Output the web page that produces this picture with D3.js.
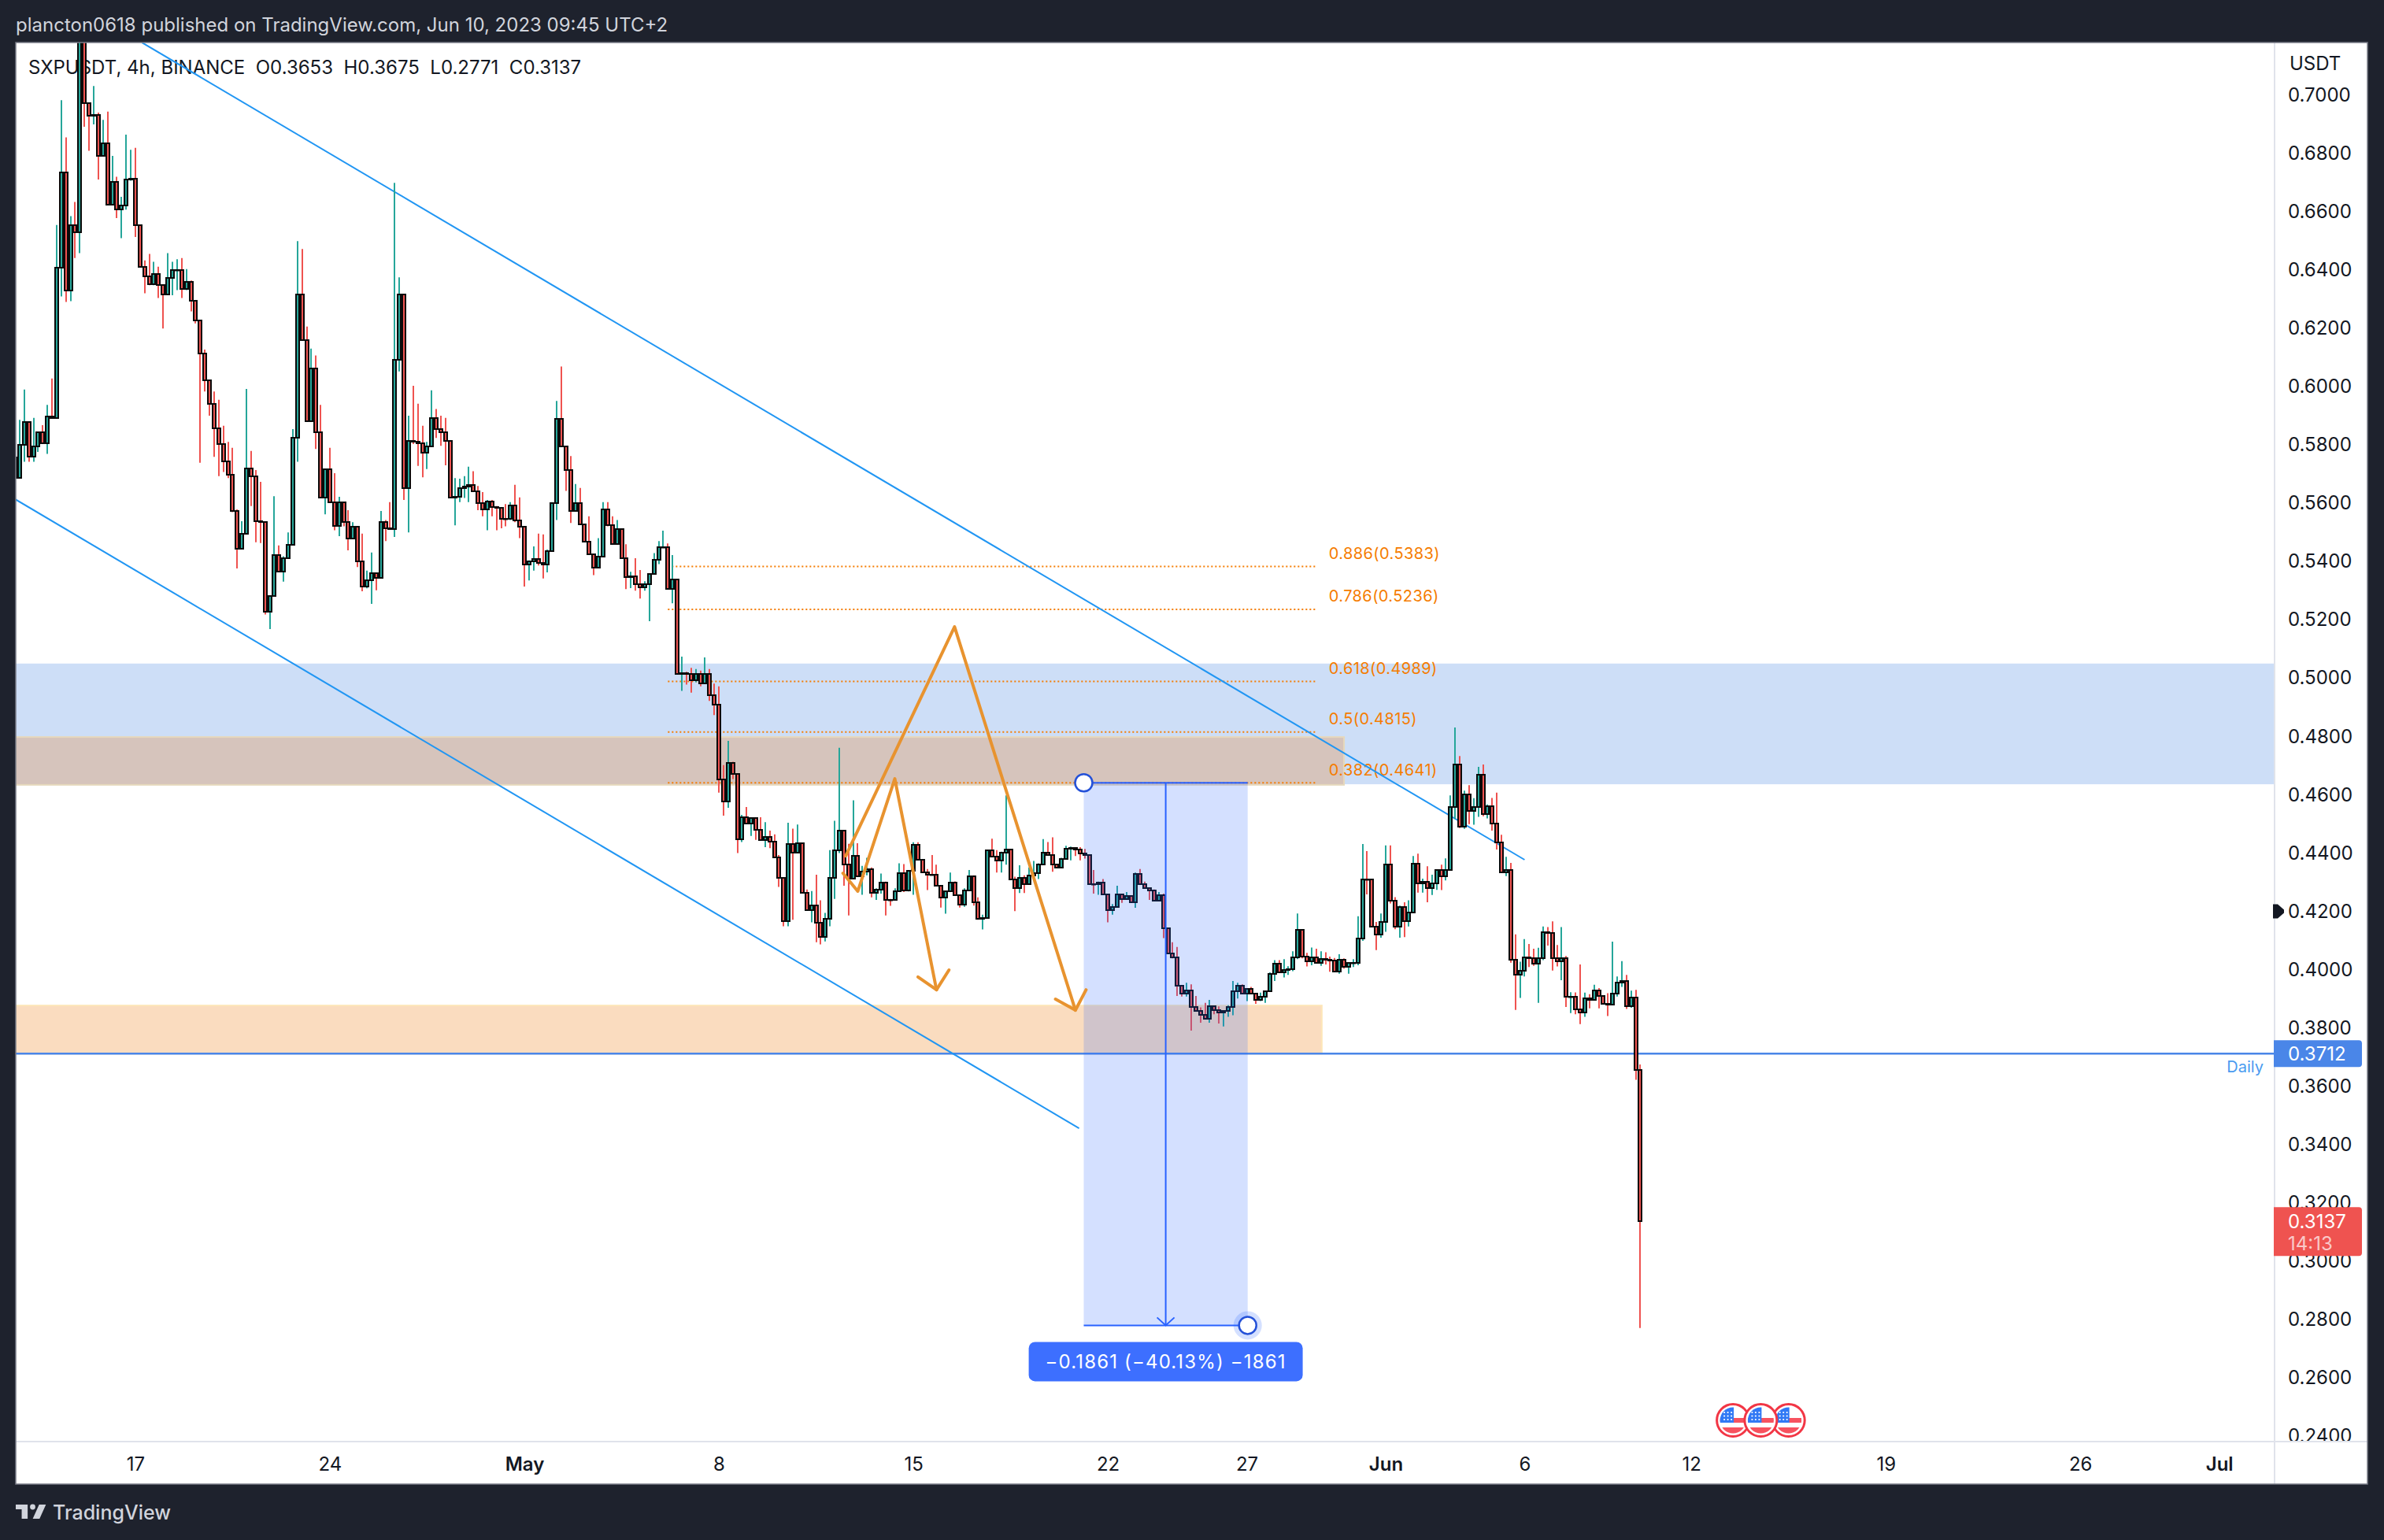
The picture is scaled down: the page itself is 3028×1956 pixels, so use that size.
<!DOCTYPE html>
<html>
<head>
<meta charset="utf-8">
<script src="https://cdn.jsdelivr.net/npm/d3@7"></script>
<style>
html,body{margin:0;padding:0;background:#1e222d;}
svg{display:block;}
text{font-family:Inter,"Noto Sans",sans-serif;}
</style>
</head>
<body>
<div id="container"></div>
<script>
// 4h candles, oldest first
const firstOpen=0.5758;
const closes=[
.5686,.5801,.5879,.5759,.5794,.5843,.5806,.5897,.5892,.6407,
.6735,.6330,.6553,.6530,.7243,.6972,.6929,.6931,.6791,.6834,
.6623,.6703,.6607,.6621,.6711,.6713,.6554,.6411,.6378,.6350,
.6386,.6348,.6316,.6373,.6400,.6400,.6334,.6359,.6294,.6228,
.6113,.6021,.5941,.5856,.5803,.5744,.5697,.5573,.5443,.5494,
.5720,.5691,.5538,.5536,.5229,.5281,.5423,.5365,.5411,.5458,
.5824,.6316,.6158,.5882,.6061,.5843,.5618,.5717,.5604,.5521,
.5604,.5535,.5480,.5518,.5400,.5314,.5336,.5361,.5343,.5535,
.5513,.5511,.6091,.6317,.5652,.5813,.5810,.5806,.5773,.5794,
.5892,.5854,.5843,.5814,.5620,.5623,.5651,.5656,.5662,.5642,
.5601,.5579,.5605,.5587,.5584,.5546,.5545,.5593,.5542,.5518,
.5390,.5400,.5408,.5394,.5390,.5436,.5600,.5889,.5794,.5714,
.5573,.5601,.5528,.5469,.5425,.5379,.5418,.5580,.5525,.5459,
.5510,.5411,.5346,.5348,.5321,.5311,.5321,.5356,.5407,.5450,
.5450,.5307,.5338,.5015,.5016,.5013,.4992,.5014,.4982,.5013,
.4941,.4908,.4652,.4577,.4709,.4672,.4447,.4523,.4501,.4521,
.4480,.4445,.4454,.4440,.4384,.4315,.4167,.4431,.4402,.4435,
.4264,.4203,.4221,.4161,.4113,.4175,.4315,.4410,.4477,.4360,
.4313,.4391,.4321,.4336,.4345,.4264,.4275,.4300,.4239,.4238,
.4270,.4331,.4273,.4338,.4429,.4378,.4333,.4327,.4326,.4288,
.4248,.4270,.4300,.4255,.4223,.4273,.4321,.4232,.4175,.4176,
.4410,.4387,.4375,.4401,.4411,.4310,.4281,.4315,.4294,.4324,
.4330,.4360,.4401,.4392,.4360,.4350,.4381,.4414,.4417,.4411,
.4399,.4394,.4293,.4292,.4300,.4258,.4203,.4214,.4258,.4243,
.4252,.4232,.4329,.4294,.4279,.4273,.4237,.4255,.4142,.4056,
.4041,.3946,.3917,.3930,.3872,.3859,.3845,.3832,.3876,.3860,
.3853,.3859,.3871,.3926,.3944,.3917,.3934,.3917,.3896,.3907,
.3926,.3986,.4021,.3991,.4000,.4003,.4041,.4138,.4045,.4030,
.4042,.4024,.4036,.4033,.4031,.3994,.4034,.4009,.4022,.4024,
.4108,.4310,.4309,.4148,.4120,.4165,.4362,.4237,.4148,.4216,
.4166,.4197,.4364,.4297,.4301,.4279,.4297,.4342,.4321,.4342,
.4558,.4705,.4490,.4600,.4544,.4558,.4669,.4534,.4561,.4501,
.4436,.4334,.4341,.4034,.3984,.3995,.4042,.4039,.4021,.4039,
.4129,.4127,.4039,.4029,.4040,.3907,.3908,.3865,.3854,.3903,
.3896,.3928,.3910,.3883,.3881,.3917,.3957,.3961,.3876,.3904,
.3656,.3137];
const highs=[
.5758,.5886,.5990,.5879,.5893,.5845,.5868,.5937,.6028,.6554,
.6982,.6855,.6585,.6633,.7400,.7350,.6970,.7031,.6940,.6915,
.6943,.6791,.6720,.6651,.6864,.6812,.6819,.6553,.6433,.6455,
.6428,.6411,.6348,.6458,.6428,.6437,.6441,.6403,.6364,.6294,
.6228,.6127,.6018,.5983,.5955,.5866,.5810,.5790,.5579,.5538,
.5992,.5779,.5714,.5673,.5536,.5281,.5624,.5455,.5418,.5500,
.5854,.6499,.6472,.6206,.6130,.6107,.5937,.5717,.5790,.5703,
.5622,.5604,.5576,.5535,.5521,.5496,.5369,.5431,.5363,.5573,
.5542,.5604,.6699,.6375,.6317,.5900,.6003,.5941,.5866,.5810,
.5987,.5923,.5900,.5893,.5814,.5686,.5684,.5693,.5725,.5710,
.5659,.5638,.5611,.5611,.5590,.5587,.5597,.5604,.5663,.5620,
.5518,.5404,.5452,.5496,.5493,.5441,.5604,.5951,.6069,.5792,
.5762,.5666,.5652,.5528,.5555,.5425,.5480,.5604,.5604,.5555,
.5542,.5510,.5459,.5365,.5411,.5371,.5332,.5359,.5429,.5470,
.5506,.5462,.5422,.5338,.5074,.5022,.5035,.5031,.5026,.5071,
.5031,.4981,.4972,.4702,.4785,.4713,.4670,.4531,.4558,.4523,
.4523,.4523,.4506,.4477,.4464,.4393,.4313,.4504,.4484,.4498,
.4431,.4275,.4270,.4326,.4238,.4195,.4410,.4511,.4761,.4475,
.4432,.4581,.4434,.4356,.4384,.4351,.4279,.4330,.4302,.4243,
.4279,.4365,.4362,.4340,.4437,.4437,.4378,.4345,.4393,.4360,
.4288,.4270,.4333,.4303,.4252,.4279,.4342,.4324,.4248,.4189,
.4410,.4449,.4410,.4405,.4598,.4411,.4319,.4358,.4324,.4351,
.4373,.4365,.4448,.4438,.4454,.4358,.4384,.4425,.4422,.4420,
.4420,.4414,.4392,.4342,.4302,.4311,.4257,.4225,.4288,.4261,
.4266,.4255,.4333,.4345,.4302,.4279,.4275,.4266,.4261,.4140,
.4094,.4078,.3946,.3955,.3950,.3910,.3871,.3886,.3896,.3877,
.3874,.3859,.3878,.3961,.3955,.3950,.3934,.3941,.3919,.3921,
.3926,.3991,.4033,.4033,.4036,.4012,.4063,.4193,.4138,.4058,
.4076,.4072,.4063,.4060,.4045,.4040,.4053,.4039,.4024,.4036,
.4183,.4431,.4407,.4306,.4164,.4193,.4426,.4426,.4249,.4220,
.4231,.4238,.4390,.4398,.4312,.4355,.4326,.4342,.4360,.4382,
.4598,.4831,.4733,.4614,.4633,.4588,.4696,.4704,.4567,.4589,
.4607,.4463,.4387,.4366,.4121,.4027,.4105,.4088,.4072,.4075,
.4148,.4146,.4166,.4085,.4146,.4047,.3923,.3922,.4018,.3921,
.3916,.3948,.3937,.3908,.3919,.4096,.3977,.4029,.3982,.3928,
.3931,.3675];
const lows=[
.5686,.5686,.5742,.5742,.5742,.5776,.5804,.5769,.5892,.5892,
.6309,.6290,.6293,.6441,.6458,.6891,.6809,.6899,.6710,.6791,
.6623,.6623,.6578,.6509,.6607,.6706,.6513,.6411,.6320,.6348,
.6348,.6304,.6199,.6313,.6313,.6331,.6304,.6331,.6258,.6217,
.5739,.5983,.5900,.5759,.5693,.5707,.5686,.5569,.5376,.5443,
.5494,.5590,.5466,.5463,.5218,.5168,.5281,.5365,.5331,.5411,
.5458,.5742,.6158,.5882,.5882,.5786,.5618,.5562,.5604,.5507,
.5487,.5521,.5438,.5480,.5381,.5298,.5308,.5255,.5301,.5343,
.5470,.5511,.5484,.6052,.5611,.5500,.5803,.5728,.5689,.5717,
.5794,.5824,.5797,.5730,.5620,.5524,.5604,.5618,.5604,.5638,
.5576,.5555,.5507,.5555,.5507,.5514,.5521,.5542,.5535,.5480,
.5314,.5335,.5369,.5386,.5342,.5363,.5436,.5542,.5794,.5642,
.5532,.5573,.5528,.5466,.5425,.5353,.5376,.5418,.5521,.5459,
.5459,.5411,.5305,.5309,.5300,.5273,.5300,.5195,.5355,.5391,
.5450,.5307,.5257,.5015,.4956,.4978,.4950,.4986,.4972,.4982,
.4922,.4873,.4607,.4528,.4555,.4654,.4400,.4438,.4501,.4459,
.4445,.4443,.4420,.4417,.4384,.4284,.4149,.4149,.4171,.4402,
.4264,.4203,.4162,.4094,.4087,.4097,.4149,.4243,.4400,.4288,
.4186,.4312,.4319,.4257,.4324,.4248,.4239,.4261,.4186,.4219,
.4239,.4270,.4266,.4268,.4257,.4378,.4333,.4273,.4326,.4288,
.4213,.4192,.4266,.4255,.4213,.4216,.4273,.4220,.4171,.4138,
.4175,.4387,.4333,.4333,.4360,.4310,.4201,.4263,.4263,.4293,
.4311,.4311,.4360,.4392,.4336,.4348,.4351,.4378,.4375,.4390,
.4375,.4381,.4293,.4261,.4257,.4257,.4162,.4189,.4214,.4229,
.4239,.4229,.4212,.4294,.4279,.4239,.4237,.4234,.4108,.4056,
.4039,.3910,.3908,.3908,.3791,.3856,.3818,.3832,.3818,.3847,
.3815,.3805,.3838,.3844,.3901,.3917,.3892,.3917,.3883,.3892,
.3886,.3926,.3961,.3991,.3973,.3982,.3995,.4036,.4039,.4011,
.4015,.4022,.4013,.4018,.3993,.3993,.3986,.4004,.3986,.4009,
.4015,.4099,.4258,.4148,.4067,.4110,.4130,.4227,.4139,.4110,
.4112,.4148,.4197,.4264,.4264,.4231,.4256,.4274,.4273,.4306,
.4342,.4517,.4486,.4483,.4499,.4497,.4524,.4526,.4519,.4477,
.4412,.4334,.4321,.4024,.3862,.3903,.3977,.4009,.4013,.3886,
.4033,.4083,.3997,.4011,.3964,.3872,.3851,.3847,.3813,.3838,
.3867,.3896,.3867,.3880,.3841,.3878,.3908,.3941,.3865,.3869,
.3622,.2771];
const opens=[firstOpen].concat(closes.slice(0,-1)); // each bar opens on the previous close

const priceTicks=[0.70,0.68,0.66,0.64,0.62,0.60,0.58,0.56,0.54,0.52,0.50,0.48,0.46,0.44,0.42,0.40,0.38,0.36,0.34,0.32,0.30,0.28,0.26,0.24];
const timeTicks=['2023-04-17','2023-04-24','2023-05-01','2023-05-08','2023-05-15','2023-05-22','2023-05-27','2023-06-01','2023-06-06','2023-06-12','2023-06-19','2023-06-26','2023-07-01'];
const timeLabels=['17','24','May','8','15','22','27','Jun','6','12','19','26','Jul'];
const monthLabels=['May','Jun','Jul'];

// drawings, anchored as [bar number, price]
const upperChannel=[[27.43,.7180],[326.0,.4377]];
const lowerChannel=[[0,.5614],[229.8,.3456]];
const arrowA=[[178.8,.4331],[182.0,.4269],[190.0,.4655],[199.0,.3931]];
const arrowAHead=[[195.0,.3975],[199.0,.3931],[201.7,.3999]];
const arrowB=[[179.4,.4390],[202.9,.5176],[229.0,.3861]];
const arrowBHead=[[224.7,.3899],[229.0,.3861],[231.3,.3931]];
const fibLevels=['0.886','0.786','0.618','0.5','0.382'];
const fibPrices=[.5383,.5236,.4989,.4815,.4641];
const fibBars=[141,281];
const zoneBlue=[.5050,.4636];
const zoneTan=[.4798,.4634];
const zoneTanEnd=287;
const zoneOrange=[.3877,.3712];
const zoneOrangeEnd=282.2;
const dailyPrice=.3712;
const lastPrice=.3137;
const markerPrice=.42;
const measureBars=[230.8,266.2];
const measurePrices=[.4641,.2780];
const measureText='\u22120.1861 (\u221240.13%) \u22121861';
const eventDays=['2023-06-13T12:00Z','2023-06-14T12:00Z','2023-06-15T12:00Z'];

const W=3028,H=1956;
const left=20,top_=54,plotRight=2889,plotBottom=1831,right=3007,bottom=1885;
const fourHours=4*3600*1000;
const lastBar=Date.UTC(2023,5,10,4);
let barTime=(i)=>new Date(lastBar-(closes.length-1-i)*fourHours);

let x=d3.scaleUtc().domain([new Date('2023-05-01'),new Date('2023-07-01')]).range([666,2818.7]);
let y=d3.scaleLinear().domain([0.70,0.24]).range([120.7,1824.1]);
let bx=(i)=>x(barTime(i));
let pointLine=d3.line().x(d=>bx(d[0])).y(d=>y(d[1]));

let svg=d3.select('#container').append('svg').attr('width',W).attr('height',H);
svg.append('rect').attr('width',W).attr('height',H).attr('fill','#1e222d');
svg.append('rect').attr('x',left).attr('y',top_).attr('width',right-left).attr('height',bottom-top_).attr('fill','#fff');

let defs=svg.append('defs');
defs.append('clipPath').attr('id','plotClip').append('rect').attr('x',left).attr('y',top_).attr('width',plotRight-left).attr('height',plotBottom-top_);

// header
svg.append('text').attr('x',20).attr('y',32).attr('dy','.35em').attr('fill','#d1d4dc').attr('font-size',24)
.text('plancton0618 published on TradingView.com, Jun 10, 2023 09:45 UTC+2');

// legend sits under the candles
svg.append('text').attr('x',36).attr('y',86).attr('dy','.35em').attr('fill','#131722').attr('font-size',24).attr('xml:space','preserve')
.text('SXPUSDT, 4h, BINANCE  O0.3653  H0.3675  L0.2771  C0.3137');

let plot=svg.append('g').attr('clip-path','url(#plotClip)');

// zones
plot.append('rect').attr('x',left).attr('width',plotRight-left).attr('y',y(zoneBlue[0])).attr('height',y(zoneBlue[1])-y(zoneBlue[0])).attr('fill','#cddef7');
plot.append('rect').attr('x',left).attr('width',bx(zoneTanEnd)-left).attr('y',y(zoneTan[0])).attr('height',y(zoneTan[1])-y(zoneTan[0])).attr('fill','#d6c4bc').attr('stroke','#e6d8bc').attr('stroke-width',2);
plot.append('rect').attr('x',left).attr('width',bx(zoneOrangeEnd)-left).attr('y',y(zoneOrange[0])).attr('height',y(zoneOrange[1])-y(zoneOrange[0])).attr('fill','#fadcbf').attr('stroke','#fde6b8').attr('stroke-width',2);

// fib levels
fibPrices.forEach((p,i)=>{
    plot.append('line').attr('x1',bx(fibBars[0])).attr('x2',bx(fibBars[1])).attr('y1',y(p)).attr('y2',y(p))
    .attr('stroke','#f57c00').attr('stroke-width',2).attr('stroke-dasharray','2 3');
    plot.append('text').attr('x',bx(fibBars[1])+16).attr('y',y(p)-16.5).attr('dy','.35em').attr('fill','#f57c00').attr('font-size',20).attr('letter-spacing',0.4)
    .text(fibLevels[i]+'('+d3.format('.4f')(p)+')');
});

// daily line
plot.append('line').attr('x1',left).attr('x2',plotRight).attr('y1',y(dailyPrice)).attr('y2',y(dailyPrice)).attr('stroke','#4a86e8').attr('stroke-width',2.4);
plot.append('text').attr('x',2875).attr('y',y(dailyPrice)+17).attr('dy','.35em').attr('text-anchor','end').attr('fill','#4a9bf0').attr('font-size',20).text('Daily');

// channel
[upperChannel,lowerChannel].forEach(c=>{
    plot.append('path').attr('d',pointLine(c)).attr('fill','none').attr('stroke','#2196f3').attr('stroke-width',2);
});

// candles
let up='#26a69a',down='#ef5350';
closes.forEach((c,i)=>{
    let o=opens[i];
    let col=c>=o?up:down;
    let cx=Math.round(bx(i));
    plot.append('line').attr('x1',cx).attr('x2',cx).attr('y1',y(highs[i])).attr('y2',y(lows[i])).attr('stroke',col).attr('stroke-width',2);
    let yTop=Math.round(y(Math.max(o,c))),yBot=Math.round(y(Math.min(o,c)));
    plot.append('rect').attr('x',cx-2).attr('width',4).attr('y',yTop).attr('height',Math.max(yBot-yTop,0.5))
    .attr('fill',col).attr('stroke','#0a0a0a').attr('stroke-width',2);
});

// price range measure
let mx0=bx(measureBars[0]),mx1=bx(measureBars[1]),my0=y(measurePrices[0]),my1=y(measurePrices[1]),mxc=(mx0+mx1)/2;
plot.append('rect').attr('x',mx0).attr('width',mx1-mx0).attr('y',my0).attr('height',my1-my0).attr('fill','#2962ff').attr('fill-opacity',.2);
[my0,my1].forEach(v=>{
    plot.append('line').attr('x1',mx0).attr('x2',mx1).attr('y1',v).attr('y2',v).attr('stroke','#2962ff').attr('stroke-width',2);
});
plot.append('line').attr('x1',mxc).attr('x2',mxc).attr('y1',my0).attr('y2',my1).attr('stroke','#2962ff').attr('stroke-width',2);
plot.append('path').attr('d',d3.line()([[mxc-11,my1-10],[mxc,my1],[mxc+11,my1-10]])).attr('fill','none').attr('stroke','#2962ff').attr('stroke-width',2);
plot.append('circle').attr('cx',mx1).attr('cy',my1).attr('r',18).attr('fill','#2962ff').attr('fill-opacity',.2);
[[mx0,my0],[mx1,my1]].forEach(p=>{
    plot.append('circle').attr('cx',p[0]).attr('cy',p[1]).attr('r',11).attr('fill','#fff').attr('stroke','#2451d8').attr('stroke-width',2.5);
});
plot.append('rect').attr('x',mxc-174).attr('width',348).attr('y',my1+21).attr('height',50).attr('rx',8).attr('fill','#3d6fff');
plot.append('text').attr('x',mxc).attr('y',my1+46).attr('dy','.35em').attr('text-anchor','middle').attr('fill','#fff').attr('font-size',24).attr('letter-spacing',1.15).text(measureText);

// hand drawn arrows
[arrowA,arrowAHead,arrowB,arrowBHead].forEach(a=>{
    plot.append('path').attr('d',pointLine(a)).attr('fill','none').attr('stroke','#e8932f').attr('stroke-width',4).attr('stroke-linejoin','round').attr('stroke-linecap','round');
});

// economic event flags
let flagOrder=[2,0,1];
flagOrder.forEach(k=>{
    let g=plot.append('g').attr('transform','translate('+x(new Date(eventDays[k]))+',1804)');
    let id='flag'+k;
    defs.append('clipPath').attr('id',id).append('circle').attr('r',16.5);
    g.append('circle').attr('r',20.5).attr('fill','#fff').attr('stroke','#f23645').attr('stroke-width',3);
    let f=g.append('g').attr('clip-path','url(#'+id+')');
    f.append('rect').attr('x',-17).attr('y',-17).attr('width',34).attr('height',34).attr('fill','#fff');
    f.append('rect').attr('x',-17).attr('y',-3).attr('width',34).attr('height',6).attr('fill','#f7525f');
    f.append('rect').attr('x',-17).attr('y',9).attr('width',34).attr('height',8).attr('fill','#f7525f');
    f.append('rect').attr('x',-17).attr('y',-17).attr('width',18).attr('height',20).attr('fill','#3179f5');
    d3.range(3).forEach(r=>d3.range(3).forEach(c=>{
        f.append('circle').attr('cx',-11+c*4.5).attr('cy',-10+r*4.5).attr('r',1.1).attr('fill','#fff');
    }));
});

// axes
let yAxis=d3.axisRight(y).tickValues(priceTicks).tickFormat(d3.format('.4f')).tickSize(0).tickPadding(17);
let yAxisG=svg.append('g').attr('transform','translate('+plotRight+',0)').call(yAxis);
yAxisG.select('.domain').remove();
yAxisG.selectAll('text').attr('font-size',24).attr('fill','#131722').attr('font-family','Inter');

// the time axis strip hides the part of the lowest price label that runs past it
svg.append('rect').attr('x',left).attr('y',plotBottom+1).attr('width',right-left).attr('height',bottom-plotBottom-1).attr('fill','#fff');
svg.append('line').attr('x1',left).attr('x2',right).attr('y1',plotBottom).attr('y2',plotBottom).attr('stroke','#e0e3eb').attr('stroke-width',2);
svg.append('line').attr('x1',plotRight).attr('x2',plotRight).attr('y1',top_).attr('y2',bottom).attr('stroke','#e0e3eb').attr('stroke-width',2);

let xAxis=d3.axisBottom(x).tickValues(timeTicks.map(d=>new Date(d))).tickFormat((d,i)=>timeLabels[i]).tickSize(0).tickPadding(0);
let xAxisG=svg.append('g').attr('transform','translate(0,1851)').call(xAxis);
xAxisG.select('.domain').remove();
xAxisG.selectAll('text').attr('font-size',24).attr('fill','#131722').attr('font-family','Inter')
.attr('font-weight',(d,i)=>monthLabels.indexOf(timeLabels[i])>=0?600:400);

svg.append('text').attr('x',2908).attr('y',81).attr('dy','.35em').attr('fill','#131722').attr('font-size',24).text('USDT');

// last price tags
let tagPath=(y0,h)=>'M2888 '+y0+'H2996a4 4 0 0 1 4 4V'+(y0+h-4)+'a4 4 0 0 1 -4 4H2888Z';
svg.append('path').attr('d',tagPath(y(dailyPrice)-17,34)).attr('fill','#4a86e8');
svg.append('text').attr('x',2906).attr('y',y(dailyPrice)).attr('dy','.35em').attr('fill','#fff').attr('font-size',24).text(d3.format('.4f')(dailyPrice));
svg.append('path').attr('d',tagPath(y(lastPrice)-18,62)).attr('fill','#ef5350');
svg.append('text').attr('x',2906).attr('y',y(lastPrice)).attr('dy','.35em').attr('fill','#fff').attr('font-size',24).text(d3.format('.4f')(lastPrice));
svg.append('text').attr('x',2906).attr('y',y(lastPrice)+28).attr('dy','.35em').attr('fill','#fff').attr('fill-opacity',.7).attr('font-size',24).text('14:13');
svg.append('path').attr('transform','translate(2887,'+y(markerPrice)+')').attr('d','M0 -9h6l8 7v4l-8 7h-6Z').attr('fill','#131722');

// frame
svg.append('rect').attr('x',left).attr('y',top_).attr('width',right-left).attr('height',bottom-top_).attr('fill','none').attr('stroke','#787b86').attr('stroke-width',1.5);

// footer logo
svg.append('path').attr('transform','translate(20,1905) scale(1.08,1)')
.attr('d','M14 6H0v6h7v12h7V6zm14 18h-8l7.5-18h8L28 24z').attr('fill','#d1d4dc');
svg.append('circle').attr('cx',41.5).attr('cy',1914).attr('r',3.4).attr('fill','#d1d4dc');
svg.append('text').attr('x',67).attr('y',1921).attr('dy','.35em').attr('fill','#d1d4dc').attr('font-size',25).attr('font-weight',500).text('TradingView');
</script>
</body>
</html>
